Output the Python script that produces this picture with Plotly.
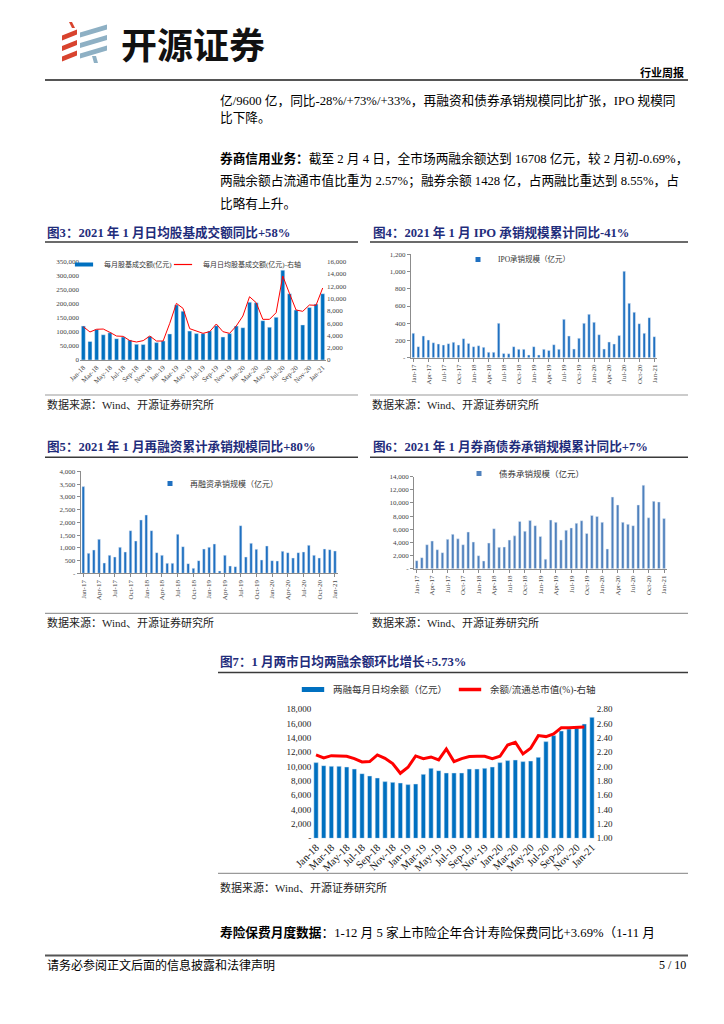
import plotly.graph_objects as go
import pandas as pd

W, H = 724, 1024
OFF = 8  # the page body adds an 8px margin; place everything relative to the visible window
def px(x): return (x - OFF) / W
def py(y): return 1 - (y - OFF) / H

SERIF = "Liberation Serif, Noto Sans CJK SC"
SANS = "Noto Sans CJK SC"
NAVY = "#1F2D7B"

# ---------------- data ----------------
months_18 = pd.date_range("2018-01-01", "2021-01-01", freq="MS").strftime("%b-%y").tolist()  # 37 months
months_17 = pd.date_range("2017-01-01", "2021-01-01", freq="MS").strftime("%b-%y").tolist()  # 49 months

# 图3 每月股基成交额(亿元) / 每月日均股基成交额(亿元)
stock_turnover = [121000, 66000, 109000, 90000, 97000, 76000, 82000, 71000, 56000, 55000, 84000, 62000,
                  68000, 93000, 196000, 174000, 103000, 94000, 94000, 103000, 122000, 82000, 94000, 121000,
                  115000, 206000, 204000, 140000, 117000, 152000, 320000, 236000, 178000, 125000, 187000, 199000,
                  236000]
daily_turnover = [5420, 4560, 5000, 5040, 4500, 3900, 3850, 3150, 2930, 3150, 3900, 3090,
                  3090, 5970, 9220, 8400, 5100, 4720, 4340, 4610, 5860, 4610, 4340, 5530,
                  7160, 10300, 9330, 6620, 6620, 7700, 13670, 10850, 8140, 7920, 8950, 8900,
                  11720]

# 图4 IPO承销规模（亿元）
ipo_scale = [283, 128, 252, 205, 174, 159, 147, 163, 178, 147, 221, 166,
             128, 139, 120, 62, 62, 399, 50, 46, 128, 97, 97, 31,
             128, 31, 97, 85, 151, 97, 445, 252, 101, 225, 399, 503,
             410, 267, 101, 182, 159, 259, 1003, 631, 527, 395, 283, 465,
             244]

# 图5 再融资承销规模（亿元）
refi_scale = [3400, 784, 915, 1333, 405, 706, 640, 1020, 837, 1673, 1268, 2092,
              2288, 1673, 810, 706, 392, 392, 1530, 1046, 379, 196, 497, 954,
              1020, 1150, 92, 706, 288, 261, 1869, 640, 1176, 941, 523, 1072,
              497, 484, 863, 810, 601, 810, 837, 1098, 706, 601, 954, 928,
              876]

# 图6 债券承销规模（亿元）
bond_scale = [1220, 1680, 3650, 4210, 2890, 2440, 4470, 5230, 4550, 3650, 5580, 4060,
              1980, 1180, 3900, 6090, 3250, 3300, 4350, 5000, 7200, 5700, 7350, 6550,
              4900, 1450, 7400, 7050, 4370, 5850, 6200, 6900, 7300, 5350, 8100, 7950,
              7050, 3000, 10900, 9700, 7050, 6750, 6550, 9700, 12700, 7750, 10250, 10150,
              7650]

# 图7 两融每月日均余额（亿元） / 余额/流通总市值(%)
margin_balance = [10560, 10140, 10050, 10050, 9950, 9670, 9020, 8700, 8420, 7910, 7810, 7720,
                  7490, 7580, 8930, 9770, 9440, 9120, 9120, 9120, 9670, 9670, 9770, 9950,
                  10560, 10840, 10930, 10700, 10790, 11300, 13490, 14330, 14980, 15260, 15400, 15950,
                  16880]
margin_ratio = [2.163, 2.121, 2.153, 2.149, 2.144, 2.112, 2.065, 2.070, 2.163, 2.116, 2.042, 1.907,
                1.991, 2.149, 2.112, 2.135, 2.093, 2.247, 2.070, 2.112, 2.140, 2.144, 2.144, 2.112,
                2.144, 2.302, 2.340, 2.177, 2.256, 2.433, 2.419, 2.456, 2.544, 2.544, 2.544, 2.553]

# tick labels
t3_left = [0, 50000, 100000, 150000, 200000, 250000, 300000, 350000]
t3_right = [0, 2000, 4000, 6000, 8000, 10000, 12000, 14000, 16000]
t4 = [0, 200, 400, 600, 800, 1000, 1200]
t5 = [0, 500, 1000, 1500, 2000, 2500, 3000, 3500, 4000]
t6 = [0, 2000, 4000, 6000, 8000, 10000, 12000, 14000]
t7_left = [0, 2000, 4000, 6000, 8000, 10000, 12000, 14000, 16000, 18000]
t7_right = [1.0, 1.2, 1.4, 1.6, 1.8, 2.0, 2.2, 2.4, 2.6, 2.8]

def fmt(v, zero="-"):
    return zero if v == 0 else f"{v:,}"

fig = go.Figure()

# ---------- 图3 ----------
fig.add_trace(go.Bar(x=months_18, y=stock_turnover, width=0.6, marker_color="#0070C0",
                     xaxis="x", yaxis="y", showlegend=False))
fig.add_trace(go.Scatter(x=months_18, y=daily_turnover, mode="lines", line=dict(color="#FF0000", width=1),
                         xaxis="x", yaxis="y2", showlegend=False))
fig.add_trace(go.Scatter(x=[None], y=[None], mode="markers", name="每月股基成交额(亿元)",
                         marker=dict(symbol="line-ew", size=13, line=dict(width=4, color="#0070C0")),
                         xaxis="x", yaxis="y", legend="legend"))
fig.add_trace(go.Scatter(x=[None], y=[None], mode="markers", name="每月日均股基成交额(亿元)-右轴",
                         marker=dict(symbol="line-ew", size=13, line=dict(width=1.2, color="#FF0000")),
                         xaxis="x", yaxis="y", legend="legend6"))

# ---------- 图4 ----------
fig.add_trace(go.Bar(x=months_17, y=ipo_scale, width=0.5, marker_color="#1F70C1",
                     xaxis="x2", yaxis="y3", showlegend=False))
fig.add_trace(go.Scatter(x=[None], y=[None], mode="markers", name="IPO承销规模（亿元）",
                         marker=dict(symbol="square", size=5, color="#1F70C1"),
                         xaxis="x2", yaxis="y3", legend="legend2"))

# ---------- 图5 ----------
fig.add_trace(go.Bar(x=months_17, y=refi_scale, width=0.5, marker_color="#1F70C1",
                     xaxis="x3", yaxis="y4", showlegend=False))
fig.add_trace(go.Scatter(x=[None], y=[None], mode="markers", name="再融资承销规模（亿元）",
                         marker=dict(symbol="square", size=5, color="#1F70C1"),
                         xaxis="x3", yaxis="y4", legend="legend3"))

# ---------- 图6 ----------
fig.add_trace(go.Bar(x=months_17, y=bond_scale, width=0.5, marker_color="#4F81BD",
                     xaxis="x4", yaxis="y5", showlegend=False))
fig.add_trace(go.Scatter(x=[None], y=[None], mode="markers", name="债券承销规模（亿元）",
                         marker=dict(symbol="square", size=5, color="#4F81BD"),
                         xaxis="x4", yaxis="y5", legend="legend4"))

# ---------- 图7 ----------
fig.add_trace(go.Bar(x=months_18, y=margin_balance, width=0.57, marker_color="#0070C0",
                     xaxis="x5", yaxis="y6", showlegend=False))
fig.add_trace(go.Scatter(x=months_18[:len(margin_ratio)], y=margin_ratio, mode="lines",
                         line=dict(color="#FF0000", width=3), xaxis="x5", yaxis="y7", showlegend=False))
fig.add_trace(go.Scatter(x=[None], y=[None], mode="markers", name="两融每月日均余额（亿元）",
                         marker=dict(symbol="line-ew", size=16, line=dict(width=5, color="#0070C0")),
                         xaxis="x5", yaxis="y6", legend="legend5"))
fig.add_trace(go.Scatter(x=[None], y=[None], mode="markers", name="余额/流通总市值(%)-右轴",
                         marker=dict(symbol="line-ew", size=16, line=dict(width=3.5, color="#FF0000")),
                         xaxis="x5", yaxis="y6", legend="legend7"))

small = dict(family=SERIF, size=7, color="#444")
mid = dict(family=SERIF, size=9, color="#222")

def xax(x0, x1, anchor, cats, step, angle, font, **kw):
    d = dict(domain=[px(x0), px(x1)], anchor=anchor, type="category", categoryorder="array",
             categoryarray=cats, range=[-0.5, len(cats) - 0.5], tickmode="array",
             tickvals=cats[::step], ticktext=cats[::step], tickangle=angle, tickfont=font,
             showgrid=False, zeroline=False, automargin=False)
    d.update(kw)
    return d

def yax(y0, y1, anchor, rng, vals, texts, font, **kw):
    d = dict(domain=[py(y0), py(y1)], anchor=anchor, range=rng, tickmode="array",
             tickvals=vals, ticktext=texts, tickfont=font, showgrid=False, zeroline=False,
             automargin=False)
    d.update(kw)
    return d

axis_line = dict(showline=True, linecolor="#8C8C8C", linewidth=1)
tick_out = dict(ticks="outside", ticklen=3, tickcolor="#8C8C8C")

def leg(x, y, size):
    return dict(x=px(x), y=py(y), xanchor="left", yanchor="middle", orientation="v",
                font=dict(family=SERIF, size=size, color="#333"), bgcolor="rgba(0,0,0,0)",
                itemwidth=30, borderwidth=0)

layout = dict(
    width=W, height=H, margin=dict(l=0, r=0, t=0, b=0, pad=0, autoexpand=False),
    paper_bgcolor="white", plot_bgcolor="rgba(0,0,0,0)",
    font=dict(family=SERIF, color="#000"),
    # 图3
    xaxis=xax(80, 326, "y", months_18, 2, -45, small, **axis_line),
    yaxis=yax(360, 261.7, "x", [0, 350000], t3_left, [fmt(v, "0") for v in t3_left], small),
    yaxis2=dict(overlaying="y", side="right", anchor="x", range=[0, 16000], tickmode="array",
                tickvals=t3_right, ticktext=[fmt(v, "0") for v in t3_right], tickfont=small,
                showgrid=False, zeroline=False, automargin=False),
    # 图4
    xaxis2=xax(410.8, 656.8, "y3", months_17, 3, -90, small, **axis_line, **tick_out),
    yaxis3=yax(357.7, 254.3, "x2", [0, 1200], t4, [fmt(v) for v in t4], small, **axis_line, **tick_out),
    # 图5
    xaxis3=xax(80.7, 337.6, "y4", months_17, 3, -90, small, **axis_line, **tick_out),
    yaxis4=yax(573.3, 471.3, "x3", [0, 4000], t5, [fmt(v) for v in t5], small, **axis_line, **tick_out),
    # 图6
    xaxis4=xax(414.1, 666.6, "y5", months_17, 3, -90, small, **axis_line, **tick_out),
    yaxis5=yax(568.7, 476.7, "x4", [0, 14000], t6, [fmt(v) for v in t6], small, **axis_line, **tick_out),
    # 图7
    xaxis5=xax(312.2, 595.8, "y6", months_18, 2, -45, dict(family=SERIF, size=10.5, color="#111")),
    yaxis6=yax(838.3, 709.3, "x5", [0, 18000], t7_left, [fmt(v) for v in t7_left], mid),
    yaxis7=dict(overlaying="y6", side="right", anchor="x5", range=[1.0, 2.8], tickmode="array",
                tickvals=t7_right, ticktext=[f"{v:.2f}" for v in t7_right], tickfont=mid,
                showgrid=False, zeroline=False, automargin=False),
    legend=leg(64, 264.5, 7),
    legend6=leg(163, 264.5, 7),
    legend2=leg(458, 259.5, 7.5),
    legend3=leg(150, 483.5, 8),
    legend4=leg(459, 473.5, 8.5),
    legend5=leg(293, 689.5, 9.5),
    legend7=leg(450, 689.5, 9.5),
)
fig.update_layout(**layout)

# ---------- text ----------
ann = []
def text(x, y, s, size, color="#000", anchor="left", family=SERIF):
    ann.append(dict(x=px(x), y=py(y), xref="paper", yref="paper", text=s, showarrow=False,
                    xanchor=anchor, yanchor="middle", font=dict(family=family, size=size, color=color)))

text(119, 43, "<b>开源证券</b>", 36, "#111", family=SANS)
text(686, 72, "<b>行业周报</b>", 11, "#000", anchor="right")

body = 12.7
text(218, 100, "亿/9600 亿，同比-28%/+73%/+33%，再融资和债券承销规模同比扩张，IPO 规模同", body)
text(218, 118, "比下降。", body)
text(218, 158, "<b>券商信用业务：</b>截至 2 月 4 日，全市场两融余额达到 16708 亿元，较 2 月初-0.69%，", body)
text(218, 181, "两融余额占流通市值比重为 2.57%；融券余额 1428 亿，占两融比重达到 8.55%，占", body)
text(218, 203, "比略有上升。", body)

tsz = 12.6
text(45, 232.7, "<b>图3：2021 年 1 月日均股基成交额同比+58%</b>", tsz, NAVY)
text(371, 232.7, "<b>图4：2021 年 1 月 IPO 承销规模累计同比-41%</b>", tsz, NAVY)
text(45, 446.5, "<b>图5：2021 年 1 月再融资累计承销规模同比+80%</b>", tsz, NAVY)
text(371, 446.5, "<b>图6：2021 年 1 月券商债券承销规模累计同比+7%</b>", tsz, NAVY)
text(218, 661.7, "<b>图7：1 月两市日均两融余额环比增长+5.73%</b>", tsz, NAVY)

src = "数据来源：Wind、开源证券研究所"
ssz = 11
text(45, 404, src, ssz, "#222")
text(370, 404, src, ssz, "#222")
text(45, 622.7, src, ssz, "#222")
text(370, 622.7, src, ssz, "#222")
text(218, 887, src, ssz, "#222")

text(218, 932, "<b>寿险保费月度数据</b>：1-12 月 5 家上市险企年合计寿险保费同比+3.69%（1-11 月", body)
text(45, 965, "请务必参阅正文后面的信息披露和法律声明", 12)
text(688, 965, "5 / 10", 12, anchor="right")
fig.update_layout(annotations=ann)

# ---------- lines & logo ----------
shapes = []
def hline(x0, x1, y, color, width):
    shapes.append(dict(type="line", xref="paper", yref="paper", x0=px(x0), x1=px(x1),
                       y0=py(y), y1=py(y), line=dict(color=color, width=width)))

def poly(pts, color):
    path = "M " + " L ".join(f"{px(a):.5f},{py(b):.5f}" for a, b in pts) + " Z"
    shapes.append(dict(type="path", xref="paper", yref="paper", path=path,
                       fillcolor=color, line=dict(width=0)))

hline(45, 688, 80, "#555555", 2)
hline(45, 358, 242, "#3A3A3A", 1.5)
hline(370, 688, 242, "#3A3A3A", 1.5)
hline(45, 358, 457.3, "#3A3A3A", 1.5)
hline(370, 688, 457.3, "#3A3A3A", 1.5)
hline(218, 688, 672.5, "#3A3A3A", 1.5)
hline(45, 358, 395, "#9A9A9A", 1.2)
hline(370, 688, 395, "#9A9A9A", 1.2)
hline(45, 358, 613.3, "#9A9A9A", 1.2)
hline(370, 688, 613.3, "#9A9A9A", 1.2)
hline(218, 688, 873.3, "#9A9A9A", 1.2)
hline(45, 688, 955.5, "#555555", 2)

RED, BLUE = "#D8432E", "#8EB0C4"
poly([(69, 22), (72, 22), (75, 28), (72, 28)], RED)
for i in range(3):
    yc = 35 + 10.5 * i
    poly([(62, yc + 3 - 2.6), (77, yc - 3 - 2.6), (77, yc - 3 + 2.6), (62, yc + 3 + 2.6)], RED)
for i in range(3):
    yc = 31 + 10.5 * i
    poly([(80, yc + 4 - 2.6), (107, yc - 4 - 2.6), (107, yc - 4 + 2.6), (80, yc + 4 + 2.6)], BLUE)
poly([(92, 56), (96, 56), (98, 63), (94, 63)], BLUE)
fig.update_layout(shapes=shapes)

fig.write_html("out.html")
